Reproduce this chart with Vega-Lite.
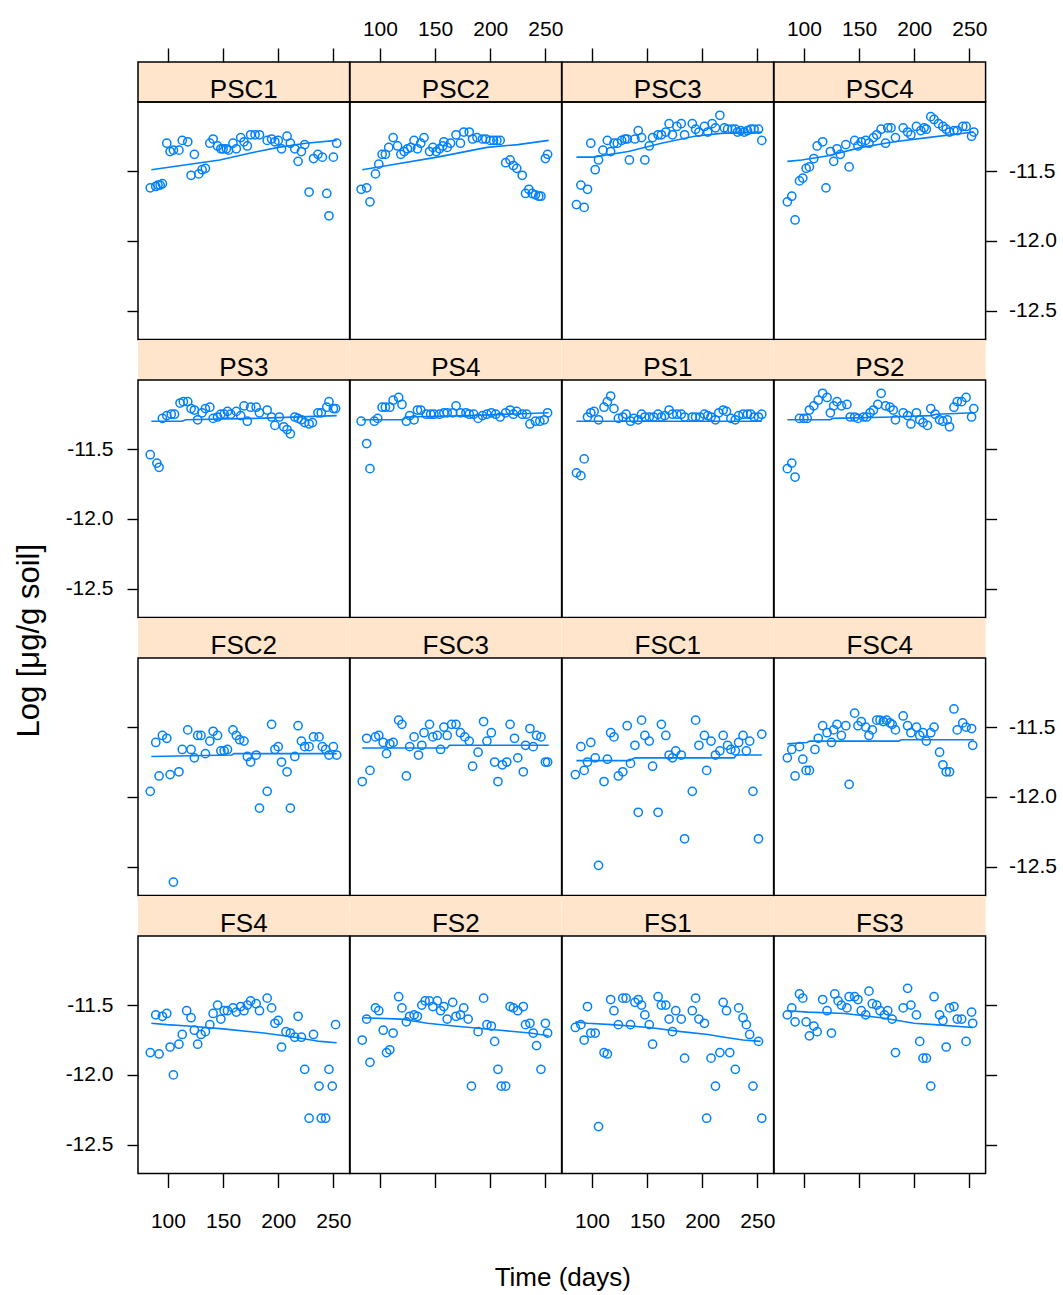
{
"$schema":"https://vega.github.io/schema/vega-lite/v6.json",
"padding":{"left":14,"top":17,"right":5,"bottom":5},
"background":"white",
"config":{
 "view":{"stroke":"#000000","strokeWidth":1.5},
 "axis":{"domain":false,"grid":false,"tickColor":"#000000","tickWidth":1.4,"labelColor":"#000000","labelFont":"Liberation Sans","labelFontSize":21,"labelFlush":false,"labelOverlap":false},
 "locale":{"number":{"decimal":".","thousands":",","grouping":[3],"currency":["$",""],"minus":"-"}},
 "text":{"font":"Liberation Sans","fontSize":26,"color":"#000000"},
 "point":{"shape":"circle","filled":false,"size":68,"strokeWidth":1.5,"color":"#0080ff","opacity":1},
 "line":{"color":"#0080ff","strokeWidth":1.6}
},
"title":{"text":"Time (days)","orient":"bottom","anchor":"middle","font":"Liberation Sans","fontSize":26,"fontWeight":"normal","color":"#000000","offset":33,"dx":27},
"vconcat":[{
"title":{"text":"Log [μg/g soil]","orient":"left","anchor":"middle","font":"Liberation Sans","fontSize":31,"fontWeight":"normal","color":"#000000","offset":18,"dx":-16},
"columns":4,"spacing":0,"bounds":"flush","align":"each",
"concat":[
{"width":211.6,"height":40,"view":{"fill":"#ffe5cc"},"data":{"values":[{"s":"PSC1"}]},"mark":{"type":"text","baseline":"alphabetic","dy":16},"encoding":{"text":{"field":"s"},"x":{"datum":168.8,"type":"quantitative","scale":{"domain":[72.9,264.7],"nice":false,"zero":false},"axis":{"orient":"top","values":[100,150,200,250],"tickSize":14,"labels":false,"title":null}}}},
{"width":211.6,"height":40,"view":{"fill":"#ffe5cc"},"data":{"values":[{"s":"PSC2"}]},"mark":{"type":"text","baseline":"alphabetic","dy":16},"encoding":{"text":{"field":"s"},"x":{"datum":168.8,"type":"quantitative","scale":{"domain":[72.9,264.7],"nice":false,"zero":false},"axis":{"orient":"top","values":[100,150,200,250],"tickSize":14,"labelPadding":9,"title":null}}}},
{"width":211.6,"height":40,"view":{"fill":"#ffe5cc"},"data":{"values":[{"s":"PSC3"}]},"mark":{"type":"text","baseline":"alphabetic","dy":16},"encoding":{"text":{"field":"s"},"x":{"datum":168.8,"type":"quantitative","scale":{"domain":[72.9,264.7],"nice":false,"zero":false},"axis":{"orient":"top","values":[100,150,200,250],"tickSize":14,"labels":false,"title":null}}}},
{"width":211.6,"height":40,"view":{"fill":"#ffe5cc"},"data":{"values":[{"s":"PSC4"}]},"mark":{"type":"text","baseline":"alphabetic","dy":16},"encoding":{"text":{"field":"s"},"x":{"datum":168.8,"type":"quantitative","scale":{"domain":[72.9,264.7],"nice":false,"zero":false},"axis":{"orient":"top","values":[100,150,200,250],"tickSize":14,"labelPadding":9,"title":null}}}},
{"width":211.6,"height":237.5,
 "encoding":{"x":{"field":"t","type":"quantitative","scale":{"domain":[72.9,264.7],"nice":false,"zero":false},"axis":null},
  "y":{"field":"v","type":"quantitative","scale":{"domain":[-12.706,-11.005],"nice":false,"zero":false},"axis":{"orient":"left","values":[-12.5,-12,-11.5],"format":".1f","tickSize":11,"labels":false,"title":null}}},
 "layer":[
 {"data":{"values":[{"t":84,"v":-11.62},{"t":89,"v":-11.61},{"t":91,"v":-11.60},{"t":93,"v":-11.60},{"t":95,"v":-11.59},{"t":99,"v":-11.30},{"t":102,"v":-11.36},{"t":105,"v":-11.35},{"t":110,"v":-11.35},{"t":113,"v":-11.28},{"t":118,"v":-11.29},{"t":121,"v":-11.53},{"t":124,"v":-11.38},{"t":128,"v":-11.52},{"t":131,"v":-11.49},{"t":134,"v":-11.48},{"t":138,"v":-11.30},{"t":141,"v":-11.27},{"t":145,"v":-11.32},{"t":148,"v":-11.34},{"t":150,"v":-11.34},{"t":153,"v":-11.34},{"t":155,"v":-11.35},{"t":159,"v":-11.30},{"t":162,"v":-11.34},{"t":166,"v":-11.26},{"t":169,"v":-11.29},{"t":172,"v":-11.32},{"t":175,"v":-11.24},{"t":179,"v":-11.24},{"t":183,"v":-11.24},{"t":190,"v":-11.28},{"t":194,"v":-11.27},{"t":197,"v":-11.29},{"t":200,"v":-11.28},{"t":203,"v":-11.34},{"t":208,"v":-11.25},{"t":211,"v":-11.30},{"t":215,"v":-11.34},{"t":218,"v":-11.43},{"t":221,"v":-11.36},{"t":224,"v":-11.31},{"t":228,"v":-11.65},{"t":232,"v":-11.41},{"t":236,"v":-11.38},{"t":240,"v":-11.40},{"t":244,"v":-11.66},{"t":246,"v":-11.82},{"t":250,"v":-11.40},{"t":253,"v":-11.30}]},"mark":"point"},
 {"data":{"values":[{"t":85,"v":-11.49},{"t":112,"v":-11.46},{"t":147,"v":-11.42},{"t":175,"v":-11.37},{"t":200,"v":-11.33},{"t":225,"v":-11.30},{"t":253,"v":-11.28}]},"mark":"line"}]},
{"width":211.6,"height":237.5,
 "encoding":{"x":{"field":"t","type":"quantitative","scale":{"domain":[72.9,264.7],"nice":false,"zero":false},"axis":null},
  "y":{"field":"v","type":"quantitative","scale":{"domain":[-12.706,-11.005],"nice":false,"zero":false},"axis":null}},
 "layer":[
 {"data":{"values":[{"t":83,"v":-11.63},{"t":88,"v":-11.62},{"t":91,"v":-11.72},{"t":96,"v":-11.52},{"t":99,"v":-11.45},{"t":102,"v":-11.38},{"t":105,"v":-11.38},{"t":108,"v":-11.33},{"t":112,"v":-11.26},{"t":116,"v":-11.32},{"t":119,"v":-11.38},{"t":122,"v":-11.36},{"t":125,"v":-11.34},{"t":128,"v":-11.33},{"t":131,"v":-11.28},{"t":134,"v":-11.34},{"t":137,"v":-11.30},{"t":140,"v":-11.26},{"t":145,"v":-11.36},{"t":148,"v":-11.33},{"t":151,"v":-11.36},{"t":154,"v":-11.34},{"t":157,"v":-11.32},{"t":158,"v":-11.29},{"t":161,"v":-11.33},{"t":164,"v":-11.30},{"t":169,"v":-11.24},{"t":173,"v":-11.30},{"t":176,"v":-11.22},{"t":181,"v":-11.22},{"t":184,"v":-11.27},{"t":188,"v":-11.26},{"t":193,"v":-11.27},{"t":196,"v":-11.27},{"t":200,"v":-11.28},{"t":203,"v":-11.28},{"t":206,"v":-11.28},{"t":209,"v":-11.28},{"t":214,"v":-11.44},{"t":218,"v":-11.42},{"t":221,"v":-11.46},{"t":224,"v":-11.48},{"t":229,"v":-11.53},{"t":232,"v":-11.66},{"t":235,"v":-11.63},{"t":238,"v":-11.66},{"t":241,"v":-11.67},{"t":244,"v":-11.68},{"t":246,"v":-11.68},{"t":250,"v":-11.41},{"t":252,"v":-11.38}]},"mark":"point"},
 {"data":{"values":[{"t":84,"v":-11.49},{"t":107,"v":-11.46},{"t":152,"v":-11.40},{"t":197,"v":-11.33},{"t":225,"v":-11.31},{"t":253,"v":-11.28}]},"mark":"line"}]},
{"width":211.6,"height":237.5,
 "encoding":{"x":{"field":"t","type":"quantitative","scale":{"domain":[72.9,264.7],"nice":false,"zero":false},"axis":null},
  "y":{"field":"v","type":"quantitative","scale":{"domain":[-12.706,-11.005],"nice":false,"zero":false},"axis":null}},
 "layer":[
 {"data":{"values":[{"t":86,"v":-11.74},{"t":90,"v":-11.60},{"t":93,"v":-11.76},{"t":96,"v":-11.63},{"t":99,"v":-11.30},{"t":103,"v":-11.49},{"t":106,"v":-11.42},{"t":110,"v":-11.35},{"t":114,"v":-11.28},{"t":117,"v":-11.36},{"t":120,"v":-11.30},{"t":123,"v":-11.30},{"t":127,"v":-11.28},{"t":130,"v":-11.27},{"t":132,"v":-11.27},{"t":134,"v":-11.42},{"t":139,"v":-11.27},{"t":142,"v":-11.21},{"t":145,"v":-11.26},{"t":148,"v":-11.42},{"t":152,"v":-11.32},{"t":155,"v":-11.26},{"t":160,"v":-11.24},{"t":163,"v":-11.24},{"t":167,"v":-11.22},{"t":170,"v":-11.16},{"t":173,"v":-11.24},{"t":177,"v":-11.18},{"t":181,"v":-11.16},{"t":184,"v":-11.24},{"t":191,"v":-11.16},{"t":194,"v":-11.20},{"t":197,"v":-11.22},{"t":202,"v":-11.18},{"t":205,"v":-11.22},{"t":209,"v":-11.16},{"t":212,"v":-11.19},{"t":216,"v":-11.10},{"t":220,"v":-11.19},{"t":223,"v":-11.20},{"t":227,"v":-11.20},{"t":230,"v":-11.20},{"t":232,"v":-11.22},{"t":235,"v":-11.21},{"t":238,"v":-11.22},{"t":241,"v":-11.21},{"t":244,"v":-11.20},{"t":247,"v":-11.20},{"t":251,"v":-11.20},{"t":254,"v":-11.28}]},"mark":"point"},
 {"data":{"values":[{"t":86,"v":-11.40},{"t":101,"v":-11.40},{"t":133,"v":-11.36},{"t":163,"v":-11.30},{"t":193,"v":-11.25},{"t":217,"v":-11.23},{"t":254,"v":-11.22}]},"mark":"line"}]},
{"width":211.6,"height":237.5,
 "encoding":{"x":{"field":"t","type":"quantitative","scale":{"domain":[72.9,264.7],"nice":false,"zero":false},"axis":null},
  "y":{"field":"v","type":"quantitative","scale":{"domain":[-12.706,-11.005],"nice":false,"zero":false},"axis":{"orient":"right","values":[-12.5,-12,-11.5],"format":".1f","tickSize":11,"labelPadding":12,"title":null}}},
 "layer":[
 {"data":{"values":[{"t":85,"v":-11.72},{"t":89,"v":-11.68},{"t":92,"v":-11.85},{"t":96,"v":-11.57},{"t":99,"v":-11.55},{"t":102,"v":-11.48},{"t":105,"v":-11.47},{"t":109,"v":-11.41},{"t":112,"v":-11.32},{"t":117,"v":-11.29},{"t":120,"v":-11.62},{"t":124,"v":-11.36},{"t":127,"v":-11.43},{"t":130,"v":-11.34},{"t":133,"v":-11.38},{"t":138,"v":-11.31},{"t":141,"v":-11.47},{"t":146,"v":-11.28},{"t":149,"v":-11.32},{"t":152,"v":-11.29},{"t":156,"v":-11.28},{"t":159,"v":-11.30},{"t":163,"v":-11.26},{"t":166,"v":-11.24},{"t":170,"v":-11.20},{"t":174,"v":-11.30},{"t":176,"v":-11.19},{"t":179,"v":-11.19},{"t":183,"v":-11.26},{"t":190,"v":-11.19},{"t":194,"v":-11.22},{"t":197,"v":-11.24},{"t":202,"v":-11.18},{"t":206,"v":-11.21},{"t":209,"v":-11.19},{"t":211,"v":-11.20},{"t":215,"v":-11.11},{"t":218,"v":-11.13},{"t":222,"v":-11.16},{"t":226,"v":-11.18},{"t":229,"v":-11.20},{"t":232,"v":-11.22},{"t":236,"v":-11.21},{"t":239,"v":-11.21},{"t":244,"v":-11.18},{"t":247,"v":-11.18},{"t":252,"v":-11.25},{"t":254,"v":-11.22}]},"mark":"point"},
 {"data":{"values":[{"t":85,"v":-11.43},{"t":98,"v":-11.42},{"t":122,"v":-11.39},{"t":152,"v":-11.33},{"t":182,"v":-11.29},{"t":212,"v":-11.26},{"t":254,"v":-11.22}]},"mark":"line"}]},
{"width":211.6,"height":40,"view":{"fill":"#ffe5cc"},"data":{"values":[{"s":"PS3"}]},"mark":{"type":"text","baseline":"alphabetic","dy":16},"encoding":{"text":{"field":"s"}}},
{"width":211.6,"height":40,"view":{"fill":"#ffe5cc"},"data":{"values":[{"s":"PS4"}]},"mark":{"type":"text","baseline":"alphabetic","dy":16},"encoding":{"text":{"field":"s"}}},
{"width":211.6,"height":40,"view":{"fill":"#ffe5cc"},"data":{"values":[{"s":"PS1"}]},"mark":{"type":"text","baseline":"alphabetic","dy":16},"encoding":{"text":{"field":"s"}}},
{"width":211.6,"height":40,"view":{"fill":"#ffe5cc"},"data":{"values":[{"s":"PS2"}]},"mark":{"type":"text","baseline":"alphabetic","dy":16},"encoding":{"text":{"field":"s"}}},
{"width":211.6,"height":237.5,
 "encoding":{"x":{"field":"t","type":"quantitative","scale":{"domain":[72.9,264.7],"nice":false,"zero":false},"axis":null},
  "y":{"field":"v","type":"quantitative","scale":{"domain":[-12.706,-11.005],"nice":false,"zero":false},"axis":{"orient":"left","values":[-12.5,-12,-11.5],"format":".1f","tickSize":11,"labelPadding":14,"title":null}}},
 "layer":[
 {"data":{"values":[{"t":84,"v":-11.54},{"t":90,"v":-11.60},{"t":92,"v":-11.63},{"t":95,"v":-11.28},{"t":99,"v":-11.26},{"t":103,"v":-11.25},{"t":106,"v":-11.25},{"t":111,"v":-11.17},{"t":114,"v":-11.16},{"t":118,"v":-11.16},{"t":121,"v":-11.21},{"t":124,"v":-11.22},{"t":127,"v":-11.29},{"t":131,"v":-11.24},{"t":134,"v":-11.21},{"t":138,"v":-11.20},{"t":141,"v":-11.28},{"t":145,"v":-11.27},{"t":148,"v":-11.25},{"t":151,"v":-11.25},{"t":154,"v":-11.23},{"t":157,"v":-11.25},{"t":162,"v":-11.23},{"t":166,"v":-11.26},{"t":169,"v":-11.19},{"t":172,"v":-11.30},{"t":175,"v":-11.20},{"t":180,"v":-11.20},{"t":183,"v":-11.24},{"t":190,"v":-11.22},{"t":194,"v":-11.27},{"t":197,"v":-11.33},{"t":201,"v":-11.27},{"t":205,"v":-11.34},{"t":208,"v":-11.36},{"t":211,"v":-11.39},{"t":215,"v":-11.27},{"t":218,"v":-11.28},{"t":221,"v":-11.29},{"t":224,"v":-11.31},{"t":228,"v":-11.32},{"t":231,"v":-11.31},{"t":236,"v":-11.24},{"t":239,"v":-11.24},{"t":244,"v":-11.20},{"t":246,"v":-11.16},{"t":250,"v":-11.21},{"t":252,"v":-11.21}]},"mark":"point"},
 {"data":{"values":[{"t":85,"v":-11.30},{"t":113,"v":-11.30},{"t":116,"v":-11.29},{"t":180,"v":-11.28},{"t":253,"v":-11.26}]},"mark":"line"}]},
{"width":211.6,"height":237.5,
 "encoding":{"x":{"field":"t","type":"quantitative","scale":{"domain":[72.9,264.7],"nice":false,"zero":false},"axis":null},
  "y":{"field":"v","type":"quantitative","scale":{"domain":[-12.706,-11.005],"nice":false,"zero":false},"axis":null}},
 "layer":[
 {"data":{"values":[{"t":83,"v":-11.30},{"t":88,"v":-11.46},{"t":91,"v":-11.64},{"t":95,"v":-11.30},{"t":98,"v":-11.28},{"t":102,"v":-11.20},{"t":105,"v":-11.20},{"t":109,"v":-11.20},{"t":112,"v":-11.15},{"t":117,"v":-11.13},{"t":120,"v":-11.18},{"t":124,"v":-11.30},{"t":127,"v":-11.26},{"t":131,"v":-11.29},{"t":134,"v":-11.22},{"t":137,"v":-11.22},{"t":142,"v":-11.25},{"t":146,"v":-11.25},{"t":149,"v":-11.25},{"t":154,"v":-11.25},{"t":158,"v":-11.24},{"t":161,"v":-11.24},{"t":166,"v":-11.24},{"t":169,"v":-11.19},{"t":173,"v":-11.24},{"t":178,"v":-11.24},{"t":181,"v":-11.25},{"t":185,"v":-11.25},{"t":189,"v":-11.28},{"t":193,"v":-11.26},{"t":197,"v":-11.25},{"t":201,"v":-11.24},{"t":205,"v":-11.25},{"t":209,"v":-11.27},{"t":214,"v":-11.24},{"t":218,"v":-11.22},{"t":221,"v":-11.25},{"t":224,"v":-11.23},{"t":229,"v":-11.25},{"t":233,"v":-11.25},{"t":236,"v":-11.32},{"t":241,"v":-11.30},{"t":245,"v":-11.30},{"t":249,"v":-11.29},{"t":252,"v":-11.24}]},"mark":"point"},
 {"data":{"values":[{"t":84,"v":-11.29},{"t":121,"v":-11.29},{"t":124,"v":-11.27},{"t":180,"v":-11.26},{"t":253,"v":-11.24}]},"mark":"line"}]},
{"width":211.6,"height":237.5,
 "encoding":{"x":{"field":"t","type":"quantitative","scale":{"domain":[72.9,264.7],"nice":false,"zero":false},"axis":null},
  "y":{"field":"v","type":"quantitative","scale":{"domain":[-12.706,-11.005],"nice":false,"zero":false},"axis":null}},
 "layer":[
 {"data":{"values":[{"t":86,"v":-11.67},{"t":90,"v":-11.69},{"t":93,"v":-11.57},{"t":96,"v":-11.27},{"t":99,"v":-11.24},{"t":102,"v":-11.23},{"t":106,"v":-11.29},{"t":111,"v":-11.20},{"t":114,"v":-11.16},{"t":117,"v":-11.12},{"t":120,"v":-11.21},{"t":124,"v":-11.28},{"t":128,"v":-11.27},{"t":131,"v":-11.25},{"t":135,"v":-11.30},{"t":138,"v":-11.28},{"t":142,"v":-11.29},{"t":145,"v":-11.25},{"t":148,"v":-11.27},{"t":152,"v":-11.27},{"t":156,"v":-11.27},{"t":160,"v":-11.25},{"t":163,"v":-11.27},{"t":166,"v":-11.26},{"t":170,"v":-11.22},{"t":173,"v":-11.25},{"t":177,"v":-11.25},{"t":181,"v":-11.25},{"t":184,"v":-11.27},{"t":191,"v":-11.27},{"t":194,"v":-11.27},{"t":198,"v":-11.27},{"t":202,"v":-11.25},{"t":205,"v":-11.26},{"t":208,"v":-11.27},{"t":212,"v":-11.29},{"t":215,"v":-11.24},{"t":219,"v":-11.22},{"t":222,"v":-11.23},{"t":226,"v":-11.28},{"t":230,"v":-11.29},{"t":233,"v":-11.26},{"t":237,"v":-11.25},{"t":241,"v":-11.25},{"t":244,"v":-11.25},{"t":247,"v":-11.27},{"t":251,"v":-11.27},{"t":254,"v":-11.25}]},"mark":"point"},
 {"data":{"values":[{"t":86,"v":-11.30},{"t":254,"v":-11.30}]},"mark":"line"}]},
{"width":211.6,"height":237.5,
 "encoding":{"x":{"field":"t","type":"quantitative","scale":{"domain":[72.9,264.7],"nice":false,"zero":false},"axis":null},
  "y":{"field":"v","type":"quantitative","scale":{"domain":[-12.706,-11.005],"nice":false,"zero":false},"axis":{"orient":"right","values":[-12.5,-12,-11.5],"format":".1f","tickSize":11,"labels":false,"title":null}}},
 "layer":[
 {"data":{"values":[{"t":85,"v":-11.64},{"t":89,"v":-11.60},{"t":92,"v":-11.70},{"t":96,"v":-11.28},{"t":100,"v":-11.28},{"t":103,"v":-11.28},{"t":105,"v":-11.22},{"t":109,"v":-11.19},{"t":113,"v":-11.15},{"t":117,"v":-11.10},{"t":121,"v":-11.13},{"t":124,"v":-11.24},{"t":127,"v":-11.19},{"t":130,"v":-11.16},{"t":134,"v":-11.19},{"t":139,"v":-11.18},{"t":142,"v":-11.27},{"t":146,"v":-11.27},{"t":149,"v":-11.28},{"t":154,"v":-11.27},{"t":157,"v":-11.27},{"t":160,"v":-11.24},{"t":163,"v":-11.22},{"t":167,"v":-11.18},{"t":170,"v":-11.10},{"t":174,"v":-11.19},{"t":178,"v":-11.20},{"t":181,"v":-11.22},{"t":183,"v":-11.29},{"t":190,"v":-11.24},{"t":194,"v":-11.26},{"t":197,"v":-11.32},{"t":202,"v":-11.24},{"t":205,"v":-11.29},{"t":208,"v":-11.31},{"t":212,"v":-11.33},{"t":215,"v":-11.21},{"t":219,"v":-11.25},{"t":223,"v":-11.29},{"t":226,"v":-11.30},{"t":230,"v":-11.29},{"t":232,"v":-11.34},{"t":236,"v":-11.20},{"t":239,"v":-11.16},{"t":243,"v":-11.16},{"t":247,"v":-11.13},{"t":252,"v":-11.27},{"t":254,"v":-11.21}]},"mark":"point"},
 {"data":{"values":[{"t":85,"v":-11.29},{"t":124,"v":-11.29},{"t":126,"v":-11.28},{"t":180,"v":-11.27},{"t":215,"v":-11.26},{"t":220,"v":-11.25},{"t":254,"v":-11.24}]},"mark":"line"}]},
{"width":211.6,"height":40,"view":{"fill":"#ffe5cc"},"data":{"values":[{"s":"FSC2"}]},"mark":{"type":"text","baseline":"alphabetic","dy":16},"encoding":{"text":{"field":"s"}}},
{"width":211.6,"height":40,"view":{"fill":"#ffe5cc"},"data":{"values":[{"s":"FSC3"}]},"mark":{"type":"text","baseline":"alphabetic","dy":16},"encoding":{"text":{"field":"s"}}},
{"width":211.6,"height":40,"view":{"fill":"#ffe5cc"},"data":{"values":[{"s":"FSC1"}]},"mark":{"type":"text","baseline":"alphabetic","dy":16},"encoding":{"text":{"field":"s"}}},
{"width":211.6,"height":40,"view":{"fill":"#ffe5cc"},"data":{"values":[{"s":"FSC4"}]},"mark":{"type":"text","baseline":"alphabetic","dy":16},"encoding":{"text":{"field":"s"}}},
{"width":211.6,"height":237.5,
 "encoding":{"x":{"field":"t","type":"quantitative","scale":{"domain":[72.9,264.7],"nice":false,"zero":false},"axis":null},
  "y":{"field":"v","type":"quantitative","scale":{"domain":[-12.706,-11.005],"nice":false,"zero":false},"axis":{"orient":"left","values":[-12.5,-12,-11.5],"format":".1f","tickSize":11,"labels":false,"title":null}}},
 "layer":[
 {"data":{"values":[{"t":84,"v":-11.96},{"t":89,"v":-11.61},{"t":92,"v":-11.85},{"t":95,"v":-11.56},{"t":99,"v":-11.58},{"t":102,"v":-11.84},{"t":105,"v":-12.61},{"t":110,"v":-11.82},{"t":113,"v":-11.66},{"t":118,"v":-11.52},{"t":121,"v":-11.66},{"t":124,"v":-11.72},{"t":127,"v":-11.56},{"t":130,"v":-11.56},{"t":134,"v":-11.69},{"t":138,"v":-11.60},{"t":141,"v":-11.53},{"t":145,"v":-11.56},{"t":148,"v":-11.67},{"t":151,"v":-11.67},{"t":154,"v":-11.66},{"t":159,"v":-11.52},{"t":162,"v":-11.56},{"t":165,"v":-11.59},{"t":169,"v":-11.60},{"t":172,"v":-11.71},{"t":175,"v":-11.75},{"t":180,"v":-11.70},{"t":183,"v":-12.08},{"t":190,"v":-11.96},{"t":194,"v":-11.48},{"t":197,"v":-11.66},{"t":200,"v":-11.64},{"t":203,"v":-11.75},{"t":208,"v":-11.82},{"t":211,"v":-12.08},{"t":215,"v":-11.71},{"t":218,"v":-11.49},{"t":221,"v":-11.60},{"t":224,"v":-11.64},{"t":228,"v":-11.64},{"t":232,"v":-11.57},{"t":237,"v":-11.57},{"t":240,"v":-11.64},{"t":243,"v":-11.66},{"t":246,"v":-11.70},{"t":250,"v":-11.64},{"t":253,"v":-11.70}]},"mark":"point"},
 {"data":{"values":[{"t":85,"v":-11.71},{"t":158,"v":-11.70},{"t":160,"v":-11.69},{"t":253,"v":-11.69}]},"mark":"line"}]},
{"width":211.6,"height":237.5,
 "encoding":{"x":{"field":"t","type":"quantitative","scale":{"domain":[72.9,264.7],"nice":false,"zero":false},"axis":null},
  "y":{"field":"v","type":"quantitative","scale":{"domain":[-12.706,-11.005],"nice":false,"zero":false},"axis":null}},
 "layer":[
 {"data":{"values":[{"t":84,"v":-11.89},{"t":88,"v":-11.58},{"t":91,"v":-11.81},{"t":96,"v":-11.57},{"t":99,"v":-11.56},{"t":103,"v":-11.61},{"t":106,"v":-11.69},{"t":109,"v":-11.62},{"t":112,"v":-11.61},{"t":117,"v":-11.45},{"t":120,"v":-11.48},{"t":124,"v":-11.85},{"t":127,"v":-11.64},{"t":131,"v":-11.57},{"t":135,"v":-11.70},{"t":138,"v":-11.63},{"t":140,"v":-11.54},{"t":145,"v":-11.48},{"t":148,"v":-11.57},{"t":152,"v":-11.56},{"t":155,"v":-11.66},{"t":158,"v":-11.50},{"t":161,"v":-11.56},{"t":165,"v":-11.48},{"t":169,"v":-11.48},{"t":173,"v":-11.54},{"t":177,"v":-11.57},{"t":181,"v":-11.60},{"t":184,"v":-11.78},{"t":189,"v":-11.68},{"t":194,"v":-11.46},{"t":197,"v":-11.60},{"t":201,"v":-11.54},{"t":204,"v":-11.75},{"t":207,"v":-11.89},{"t":211,"v":-11.77},{"t":215,"v":-11.75},{"t":218,"v":-11.48},{"t":222,"v":-11.58},{"t":225,"v":-11.72},{"t":230,"v":-11.82},{"t":232,"v":-11.63},{"t":236,"v":-11.51},{"t":239,"v":-11.64},{"t":242,"v":-11.56},{"t":246,"v":-11.57},{"t":250,"v":-11.75},{"t":252,"v":-11.75}]},"mark":"point"},
 {"data":{"values":[{"t":84,"v":-11.65},{"t":161,"v":-11.65},{"t":163,"v":-11.63},{"t":253,"v":-11.63}]},"mark":"line"}]},
{"width":211.6,"height":237.5,
 "encoding":{"x":{"field":"t","type":"quantitative","scale":{"domain":[72.9,264.7],"nice":false,"zero":false},"axis":null},
  "y":{"field":"v","type":"quantitative","scale":{"domain":[-12.706,-11.005],"nice":false,"zero":false},"axis":null}},
 "layer":[
 {"data":{"values":[{"t":85,"v":-11.84},{"t":90,"v":-11.64},{"t":93,"v":-11.81},{"t":96,"v":-11.75},{"t":99,"v":-11.61},{"t":103,"v":-11.72},{"t":106,"v":-12.49},{"t":111,"v":-11.89},{"t":114,"v":-11.73},{"t":117,"v":-11.54},{"t":120,"v":-11.57},{"t":124,"v":-11.85},{"t":128,"v":-11.82},{"t":132,"v":-11.49},{"t":135,"v":-11.76},{"t":139,"v":-11.63},{"t":142,"v":-12.11},{"t":145,"v":-11.45},{"t":148,"v":-11.56},{"t":152,"v":-11.60},{"t":155,"v":-11.78},{"t":160,"v":-12.11},{"t":163,"v":-11.48},{"t":167,"v":-11.56},{"t":170,"v":-11.70},{"t":173,"v":-11.72},{"t":176,"v":-11.67},{"t":181,"v":-11.70},{"t":184,"v":-12.30},{"t":191,"v":-11.96},{"t":194,"v":-11.45},{"t":197,"v":-11.63},{"t":202,"v":-11.56},{"t":204,"v":-11.81},{"t":208,"v":-11.60},{"t":212,"v":-11.70},{"t":216,"v":-11.67},{"t":219,"v":-11.56},{"t":223,"v":-11.63},{"t":226,"v":-11.66},{"t":230,"v":-11.67},{"t":233,"v":-11.61},{"t":237,"v":-11.56},{"t":240,"v":-11.67},{"t":243,"v":-11.60},{"t":246,"v":-11.96},{"t":251,"v":-12.30},{"t":254,"v":-11.55}]},"mark":"point"},
 {"data":{"values":[{"t":86,"v":-11.74},{"t":134,"v":-11.74},{"t":139,"v":-11.72},{"t":229,"v":-11.72},{"t":231,"v":-11.70},{"t":254,"v":-11.70}]},"mark":"line"}]},
{"width":211.6,"height":237.5,
 "encoding":{"x":{"field":"t","type":"quantitative","scale":{"domain":[72.9,264.7],"nice":false,"zero":false},"axis":null},
  "y":{"field":"v","type":"quantitative","scale":{"domain":[-12.706,-11.005],"nice":false,"zero":false},"axis":{"orient":"right","values":[-12.5,-12,-11.5],"format":".1f","tickSize":11,"labelPadding":12,"title":null}}},
 "layer":[
 {"data":{"values":[{"t":85,"v":-11.72},{"t":89,"v":-11.66},{"t":92,"v":-11.85},{"t":96,"v":-11.64},{"t":99,"v":-11.73},{"t":102,"v":-11.81},{"t":105,"v":-11.81},{"t":110,"v":-11.66},{"t":113,"v":-11.58},{"t":117,"v":-11.49},{"t":121,"v":-11.54},{"t":125,"v":-11.61},{"t":127,"v":-11.52},{"t":130,"v":-11.48},{"t":134,"v":-11.56},{"t":138,"v":-11.49},{"t":141,"v":-11.91},{"t":146,"v":-11.40},{"t":149,"v":-11.49},{"t":152,"v":-11.46},{"t":156,"v":-11.50},{"t":159,"v":-11.56},{"t":162,"v":-11.52},{"t":166,"v":-11.45},{"t":169,"v":-11.45},{"t":172,"v":-11.46},{"t":175,"v":-11.45},{"t":178,"v":-11.47},{"t":180,"v":-11.48},{"t":183,"v":-11.52},{"t":190,"v":-11.42},{"t":194,"v":-11.49},{"t":197,"v":-11.54},{"t":202,"v":-11.50},{"t":205,"v":-11.56},{"t":208,"v":-11.54},{"t":211,"v":-11.60},{"t":215,"v":-11.54},{"t":218,"v":-11.50},{"t":223,"v":-11.68},{"t":226,"v":-11.77},{"t":229,"v":-11.82},{"t":232,"v":-11.82},{"t":236,"v":-11.37},{"t":239,"v":-11.52},{"t":244,"v":-11.47},{"t":247,"v":-11.50},{"t":252,"v":-11.51},{"t":253,"v":-11.63}]},"mark":"point"},
 {"data":{"values":[{"t":85,"v":-11.62},{"t":103,"v":-11.61},{"t":105,"v":-11.60},{"t":186,"v":-11.60},{"t":188,"v":-11.59},{"t":254,"v":-11.59}]},"mark":"line"}]},
{"width":211.6,"height":40,"view":{"fill":"#ffe5cc"},"data":{"values":[{"s":"FS4"}]},"mark":{"type":"text","baseline":"alphabetic","dy":16},"encoding":{"text":{"field":"s"}}},
{"width":211.6,"height":40,"view":{"fill":"#ffe5cc"},"data":{"values":[{"s":"FS2"}]},"mark":{"type":"text","baseline":"alphabetic","dy":16},"encoding":{"text":{"field":"s"}}},
{"width":211.6,"height":40,"view":{"fill":"#ffe5cc"},"data":{"values":[{"s":"FS1"}]},"mark":{"type":"text","baseline":"alphabetic","dy":16},"encoding":{"text":{"field":"s"}}},
{"width":211.6,"height":40,"view":{"fill":"#ffe5cc"},"data":{"values":[{"s":"FS3"}]},"mark":{"type":"text","baseline":"alphabetic","dy":16},"encoding":{"text":{"field":"s"}}},
{"width":211.6,"height":237.5,
 "encoding":{"x":{"field":"t","type":"quantitative","scale":{"domain":[72.9,264.7],"nice":false,"zero":false},"axis":{"orient":"bottom","values":[100,150,200,250],"tickSize":14,"labelPadding":23,"title":null}},
  "y":{"field":"v","type":"quantitative","scale":{"domain":[-12.706,-11.005],"nice":false,"zero":false},"axis":{"orient":"left","values":[-12.5,-12,-11.5],"format":".1f","tickSize":11,"labelPadding":14,"title":null}}},
 "layer":[
 {"data":{"values":[{"t":84,"v":-11.84},{"t":89,"v":-11.57},{"t":92,"v":-11.85},{"t":95,"v":-11.58},{"t":99,"v":-11.56},{"t":102,"v":-11.80},{"t":105,"v":-12.00},{"t":110,"v":-11.78},{"t":113,"v":-11.71},{"t":117,"v":-11.54},{"t":121,"v":-11.59},{"t":124,"v":-11.68},{"t":127,"v":-11.78},{"t":130,"v":-11.71},{"t":134,"v":-11.69},{"t":138,"v":-11.64},{"t":141,"v":-11.56},{"t":145,"v":-11.50},{"t":148,"v":-11.60},{"t":151,"v":-11.54},{"t":154,"v":-11.54},{"t":159,"v":-11.52},{"t":162,"v":-11.55},{"t":166,"v":-11.51},{"t":169,"v":-11.54},{"t":172,"v":-11.50},{"t":175,"v":-11.47},{"t":180,"v":-11.49},{"t":183,"v":-11.54},{"t":190,"v":-11.45},{"t":194,"v":-11.52},{"t":197,"v":-11.63},{"t":200,"v":-11.61},{"t":203,"v":-11.80},{"t":207,"v":-11.69},{"t":211,"v":-11.70},{"t":215,"v":-11.73},{"t":218,"v":-11.58},{"t":221,"v":-11.73},{"t":224,"v":-11.96},{"t":228,"v":-12.31},{"t":232,"v":-11.71},{"t":237,"v":-12.08},{"t":239,"v":-12.31},{"t":243,"v":-12.31},{"t":246,"v":-11.96},{"t":249,"v":-12.08},{"t":252,"v":-11.64}]},"mark":"point"},
 {"data":{"values":[{"t":85,"v":-11.63},{"t":99,"v":-11.64},{"t":118,"v":-11.65},{"t":150,"v":-11.67},{"t":187,"v":-11.70},{"t":215,"v":-11.73},{"t":238,"v":-11.76},{"t":253,"v":-11.77}]},"mark":"line"}]},
{"width":211.6,"height":237.5,
 "encoding":{"x":{"field":"t","type":"quantitative","scale":{"domain":[72.9,264.7],"nice":false,"zero":false},"axis":{"orient":"bottom","values":[100,150,200,250],"tickSize":14,"labels":false,"title":null}},
  "y":{"field":"v","type":"quantitative","scale":{"domain":[-12.706,-11.005],"nice":false,"zero":false},"axis":null}},
 "layer":[
 {"data":{"values":[{"t":84,"v":-11.75},{"t":88,"v":-11.60},{"t":91,"v":-11.91},{"t":96,"v":-11.52},{"t":99,"v":-11.54},{"t":103,"v":-11.68},{"t":106,"v":-11.84},{"t":109,"v":-11.82},{"t":112,"v":-11.70},{"t":117,"v":-11.44},{"t":120,"v":-11.52},{"t":124,"v":-11.62},{"t":127,"v":-11.58},{"t":131,"v":-11.57},{"t":134,"v":-11.58},{"t":138,"v":-11.50},{"t":141,"v":-11.47},{"t":145,"v":-11.47},{"t":148,"v":-11.51},{"t":152,"v":-11.47},{"t":155,"v":-11.54},{"t":158,"v":-11.51},{"t":161,"v":-11.60},{"t":166,"v":-11.48},{"t":169,"v":-11.58},{"t":173,"v":-11.57},{"t":176,"v":-11.52},{"t":180,"v":-11.60},{"t":183,"v":-12.08},{"t":189,"v":-11.69},{"t":194,"v":-11.45},{"t":197,"v":-11.64},{"t":201,"v":-11.65},{"t":204,"v":-11.76},{"t":207,"v":-11.96},{"t":210,"v":-12.08},{"t":214,"v":-12.08},{"t":218,"v":-11.51},{"t":221,"v":-11.52},{"t":225,"v":-11.54},{"t":230,"v":-11.51},{"t":232,"v":-11.64},{"t":236,"v":-11.63},{"t":239,"v":-11.70},{"t":242,"v":-11.79},{"t":246,"v":-11.96},{"t":250,"v":-11.63},{"t":252,"v":-11.70}]},"mark":"point"},
 {"data":{"values":[{"t":85,"v":-11.59},{"t":119,"v":-11.60},{"t":143,"v":-11.63},{"t":167,"v":-11.65},{"t":182,"v":-11.66},{"t":209,"v":-11.68},{"t":236,"v":-11.70},{"t":253,"v":-11.72}]},"mark":"line"}]},
{"width":211.6,"height":237.5,
 "encoding":{"x":{"field":"t","type":"quantitative","scale":{"domain":[72.9,264.7],"nice":false,"zero":false},"axis":{"orient":"bottom","values":[100,150,200,250],"tickSize":14,"labelPadding":23,"title":null}},
  "y":{"field":"v","type":"quantitative","scale":{"domain":[-12.706,-11.005],"nice":false,"zero":false},"axis":null}},
 "layer":[
 {"data":{"values":[{"t":85,"v":-11.66},{"t":90,"v":-11.64},{"t":93,"v":-11.75},{"t":96,"v":-11.51},{"t":99,"v":-11.70},{"t":103,"v":-11.70},{"t":106,"v":-12.37},{"t":111,"v":-11.84},{"t":114,"v":-11.85},{"t":117,"v":-11.46},{"t":120,"v":-11.54},{"t":124,"v":-11.64},{"t":128,"v":-11.45},{"t":131,"v":-11.45},{"t":135,"v":-11.64},{"t":139,"v":-11.48},{"t":142,"v":-11.46},{"t":145,"v":-11.50},{"t":148,"v":-11.57},{"t":152,"v":-11.64},{"t":155,"v":-11.78},{"t":160,"v":-11.44},{"t":163,"v":-11.50},{"t":167,"v":-11.50},{"t":170,"v":-11.60},{"t":173,"v":-11.69},{"t":176,"v":-11.54},{"t":181,"v":-11.60},{"t":184,"v":-11.88},{"t":191,"v":-11.54},{"t":194,"v":-11.45},{"t":197,"v":-11.60},{"t":202,"v":-11.63},{"t":204,"v":-12.31},{"t":208,"v":-11.88},{"t":212,"v":-12.08},{"t":216,"v":-11.84},{"t":219,"v":-11.48},{"t":222,"v":-11.54},{"t":225,"v":-11.84},{"t":230,"v":-11.96},{"t":233,"v":-11.52},{"t":237,"v":-11.59},{"t":240,"v":-11.64},{"t":243,"v":-11.71},{"t":246,"v":-12.08},{"t":251,"v":-11.76},{"t":254,"v":-12.31}]},"mark":"point"},
 {"data":{"values":[{"t":85,"v":-11.62},{"t":96,"v":-11.63},{"t":118,"v":-11.64},{"t":152,"v":-11.66},{"t":181,"v":-11.69},{"t":205,"v":-11.71},{"t":220,"v":-11.73},{"t":237,"v":-11.75},{"t":253,"v":-11.76}]},"mark":"line"}]},
{"width":211.6,"height":237.5,
 "encoding":{"x":{"field":"t","type":"quantitative","scale":{"domain":[72.9,264.7],"nice":false,"zero":false},"axis":{"orient":"bottom","values":[100,150,200,250],"tickSize":14,"labels":false,"title":null}},
  "y":{"field":"v","type":"quantitative","scale":{"domain":[-12.706,-11.005],"nice":false,"zero":false},"axis":{"orient":"right","values":[-12.5,-12,-11.5],"format":".1f","tickSize":11,"labels":false,"title":null}}},
 "layer":[
 {"data":{"values":[{"t":85,"v":-11.57},{"t":89,"v":-11.52},{"t":92,"v":-11.62},{"t":96,"v":-11.42},{"t":99,"v":-11.45},{"t":102,"v":-11.62},{"t":105,"v":-11.72},{"t":109,"v":-11.65},{"t":112,"v":-11.69},{"t":117,"v":-11.46},{"t":121,"v":-11.54},{"t":125,"v":-11.70},{"t":128,"v":-11.42},{"t":131,"v":-11.47},{"t":134,"v":-11.50},{"t":139,"v":-11.52},{"t":141,"v":-11.44},{"t":146,"v":-11.44},{"t":149,"v":-11.46},{"t":152,"v":-11.54},{"t":156,"v":-11.57},{"t":159,"v":-11.40},{"t":162,"v":-11.49},{"t":166,"v":-11.50},{"t":169,"v":-11.54},{"t":173,"v":-11.57},{"t":176,"v":-11.54},{"t":180,"v":-11.60},{"t":183,"v":-11.84},{"t":190,"v":-11.52},{"t":194,"v":-11.38},{"t":197,"v":-11.50},{"t":202,"v":-11.57},{"t":205,"v":-11.76},{"t":208,"v":-11.88},{"t":211,"v":-11.88},{"t":215,"v":-12.08},{"t":218,"v":-11.44},{"t":223,"v":-11.57},{"t":226,"v":-11.61},{"t":229,"v":-11.80},{"t":232,"v":-11.52},{"t":236,"v":-11.51},{"t":239,"v":-11.60},{"t":243,"v":-11.60},{"t":247,"v":-11.76},{"t":252,"v":-11.55},{"t":253,"v":-11.63}]},"mark":"point"},
 {"data":{"values":[{"t":85,"v":-11.54},{"t":104,"v":-11.55},{"t":137,"v":-11.56},{"t":170,"v":-11.59},{"t":185,"v":-11.61},{"t":200,"v":-11.63},{"t":218,"v":-11.64},{"t":253,"v":-11.66}]},"mark":"line"}]}
]}]
}
